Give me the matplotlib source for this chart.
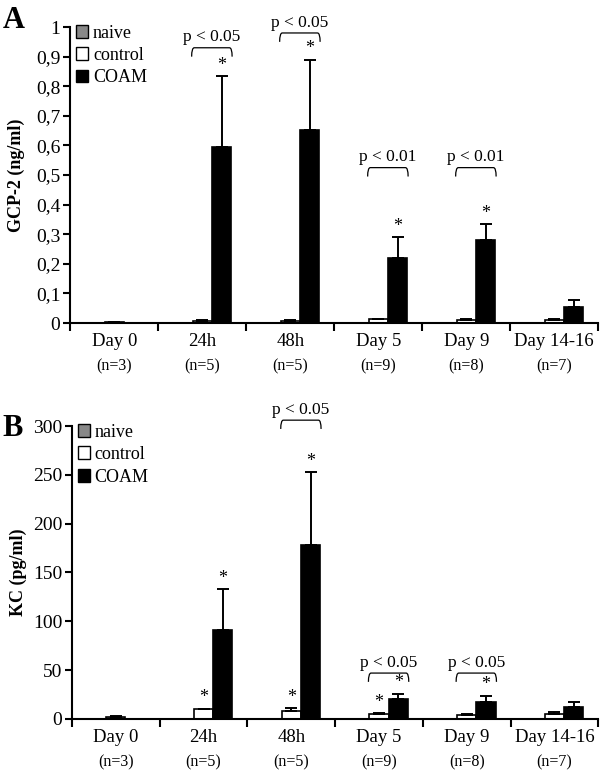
import matplotlib
matplotlib.use("Agg")
import matplotlib.pyplot as plt
import numpy as np
from matplotlib.path import Path
from matplotlib.patches import PathPatch, Patch
from matplotlib.ticker import FuncFormatter, FixedLocator
import matplotlib.transforms as mtransforms

plt.rcParams['font.family'] = ['Liberation Serif', 'DejaVu Serif']

categories = ["Day 0", "24h", "48h", "Day 5", "Day 9", "Day 14-16"]
n_labels = ["(n=3)", "(n=5)", "(n=5)", "(n=9)", "(n=8)", "(n=7)"]

# Panel A: GCP-2 (ng/ml)
a_naive = [0.003, np.nan, np.nan, np.nan, np.nan, np.nan]
a_naive_err = [0.002, 0, 0, 0, 0, 0]
a_control = [np.nan, 0.006, 0.006, 0.012, 0.010, 0.010]
a_control_err = [0, 0.003, 0.003, 0.002, 0.005, 0.005]
a_coam = [np.nan, 0.595, 0.652, 0.218, 0.280, 0.053]
a_coam_err = [0, 0.240, 0.238, 0.072, 0.053, 0.025]
a_star_control = [False, False, False, False, False, False]
a_star_coam = [False, True, True, True, True, False]
a_pvals = [None, "p < 0.05", "p < 0.05", "p < 0.01", "p < 0.01", None]
a_bracket_y = [None, 0.93, 0.98, 0.525, 0.525, None]

# Panel B: KC (pg/ml)
b_naive = [2.0, np.nan, np.nan, np.nan, np.nan, np.nan]
b_naive_err = [1.0, 0, 0, 0, 0, 0]
b_control = [np.nan, 10, 8, 5, 4, 5]
b_control_err = [0, 0.5, 3, 1, 1, 2]
b_coam = [np.nan, 91, 178, 20, 17, 12]
b_coam_err = [0, 42, 75, 6, 7, 5]
b_star_control = [False, True, True, True, False, False]
b_star_coam = [False, True, True, True, True, False]
b_pvals = [None, None, "p < 0.05", "p < 0.05", "p < 0.05", None]
b_bracket_y = [None, None, 306, 47, 47, None]

fig = plt.figure(figsize=(6, 7.75), dpi=100)
axA = fig.add_axes([0.117, 0.5832, 0.880, 0.3819])
axB = fig.add_axes([0.120, 0.0723, 0.877, 0.3780])

W = 0.22
x = np.arange(len(categories))


def bracket(ax, x0, x1, ytop, drop, rad):
    verts = [(x0, ytop - drop), (x0, ytop), (x0 + rad, ytop),
             (x1 - rad, ytop), (x1, ytop), (x1, ytop - drop)]
    codes = [Path.MOVETO, Path.CURVE3, Path.CURVE3, Path.LINETO, Path.CURVE3, Path.CURVE3]
    ax.add_patch(PathPatch(Path(verts, codes), fill=False, lw=0.9, edgecolor='black', clip_on=False))


def panel(ax, naive, naive_err, control, control_err, coam, coam_err,
          star_c, star_o, pvals, by, ymax, step, fmt, ylabel, letter, letter_y, drop):
    ekw = dict(elinewidth=1.4, capthick=1.4, ecolor='black')
    ax.bar(x, naive, W, color='#888888', edgecolor='black', lw=1.2,
           yerr=[np.zeros(len(x)), naive_err], capsize=4, error_kw=ekw)
    ax.bar(x, control, W, color='white', edgecolor='black', lw=1.2,
           yerr=[np.zeros(len(x)), control_err], capsize=4, error_kw=ekw)
    ax.bar(x + W, coam, W, color='black', edgecolor='black', lw=1.2,
           yerr=[np.zeros(len(x)), coam_err], capsize=4, error_kw=ekw)
    for i in range(len(x)):
        if star_c[i]:
            ax.text(x[i], control[i] + control_err[i] + ymax * 0.008, "*",
                    ha='center', va='bottom', fontsize=13)
        if star_o[i]:
            ax.text(x[i] + W, coam[i] + coam_err[i] + ymax * 0.008, "*",
                    ha='center', va='bottom', fontsize=13)
        if pvals[i]:
            x0, x1 = x[i] - 0.12, x[i] + 0.34
            bracket(ax, x0, x1, by[i], drop, 0.03)
            ax.text((x0 + x1) / 2, by[i] + ymax * 0.008, pvals[i],
                    ha='center', va='bottom', fontsize=12.5, clip_on=False)
    ax.set_xlim(-0.5, len(x) - 0.5)
    ax.set_ylim(0, ymax)
    ax.set_yticks(np.arange(0, ymax + step / 2, step))
    ax.yaxis.set_major_formatter(FuncFormatter(fmt))
    ax.set_xticks(x)
    ax.set_xticklabels(categories, fontsize=13.5)
    ax.xaxis.set_minor_locator(FixedLocator(np.arange(-0.5, len(x), 1.0)))
    ax.tick_params(axis='x', which='major', length=0, pad=7)
    ax.tick_params(axis='x', which='minor', length=6, width=1.5, direction='out')
    ax.tick_params(axis='y', length=5, width=1.5, direction='out', labelsize=14, pad=2)
    for s in ['top', 'right']:
        ax.spines[s].set_visible(False)
    for s in ['left', 'bottom']:
        ax.spines[s].set_linewidth(1.5)
    trans = mtransforms.blended_transform_factory(ax.transData, ax.transAxes)
    for i, n in enumerate(n_labels):
        ax.annotate(n, xy=(x[i], 0), xycoords=trans, xytext=(0, -31),
                    textcoords='offset points', ha='center', va='center', fontsize=11.5)
    ax.set_ylabel(ylabel, fontsize=13, fontweight='bold')
    ax.yaxis.set_label_coords(-0.085, 0.5)
    handles = [Patch(facecolor='#888888', edgecolor='black', lw=1),
               Patch(facecolor='white', edgecolor='black', lw=1),
               Patch(facecolor='black', edgecolor='black', lw=1)]
    ax.legend(handles, ["naive", "control", "COAM"], loc='upper left',
              bbox_to_anchor=(-0.01, 1.045), frameon=False, fontsize=13,
              handlelength=0.7, handleheight=0.7, handletextpad=0.25,
              labelspacing=0.3, borderaxespad=0.2)
    fig.text(0.004, letter_y, letter, fontsize=22, fontweight='bold',
             ha='left', va='center')


panel(axA, a_naive, a_naive_err, a_control, a_control_err, a_coam, a_coam_err,
      a_star_control, a_star_coam, a_pvals, a_bracket_y, 1.0, 0.1,
      lambda v, p: "0" if abs(v) < 1e-9 else ("1" if abs(v - 1) < 1e-9 else f"{v:.1f}".replace('.', ',')),
      "GCP-2 (ng/ml)", "A", 1 - 20 / 775, 0.03)
panel(axB, b_naive, b_naive_err, b_control, b_control_err, b_coam, b_coam_err,
      b_star_control, b_star_coam, b_pvals, b_bracket_y, 300, 50,
      lambda v, p: f"{int(round(v))}", "KC (pg/ml)", "B", 1 - 428 / 775, 9)

fig.savefig("out.png", dpi=100)
